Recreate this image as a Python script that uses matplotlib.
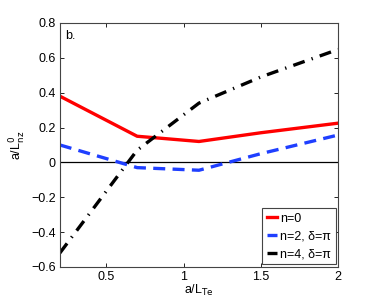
import matplotlib
matplotlib.use('Agg')
import matplotlib.pyplot as plt

# data
x = [0.2, 0.7, 1.1, 1.5, 2.0]
n0 = [0.38, 0.15, 0.12, 0.17, 0.225]
n2 = [0.10, -0.03, -0.045, 0.05, 0.157]
n4 = [-0.52, 0.07, 0.34, 0.49, 0.648]

xticks = [0.5, 1, 1.5, 2]
yticks = [-0.6, -0.4, -0.2, 0, 0.2, 0.4, 0.6, 0.8]

plt.rcParams['font.family'] = ['Liberation Sans', 'DejaVu Sans']
plt.rcParams['font.size'] = 9

fig = plt.figure(figsize=(3.74, 3.02), dpi=100)
ax = fig.add_axes([0.160, 0.116, 0.744, 0.808])

ax.axhline(0, color='black', lw=0.9)
ax.plot(x, n0, color='#ff0000', lw=2.4, label='n=0')
ax.plot(x, n2, color='#1f3fff', lw=2.4, ls=(0, (3.6, 2.2)), label='n=2, δ=π')
ax.plot(x, n4, color='black', lw=2.4, ls=(0, (3.6, 2.2, 0.4, 2.2)), label='n=4, δ=π')

ax.set_xlim(0.2, 2)
ax.set_ylim(-0.6, 0.8)
ax.set_xticks(xticks)
ax.set_xticklabels(['0.5', '1', '1.5', '2'])
ax.set_yticks(yticks)
ax.set_yticklabels(['\u22120.6', '\u22120.4', '\u22120.2', '0', '0.2', '0.4', '0.6', '0.8'])
ax.tick_params(direction='in', top=True, right=True, length=3, width=0.6, pad=3)
for s in ax.spines.values():
    s.set_linewidth(0.8)
    s.set_color('#444444')

ax.set_xlabel('a/L$_{\\mathrm{Te}}$', labelpad=0)
ax.set_ylabel('a/L$_{\\mathrm{nz}}^{0}$', labelpad=2)
ax.text(0.02, 0.97, 'b.', transform=ax.transAxes, va='top', ha='left')

leg = ax.legend(loc='lower right', handlelength=0.8, handletextpad=0.3,
                borderpad=0.35, labelspacing=0.45, fancybox=False,
                framealpha=1, borderaxespad=0.2)
leg.get_frame().set_edgecolor('#444444')
leg.get_frame().set_linewidth(0.8)

fig.savefig('out.png', dpi=100)
